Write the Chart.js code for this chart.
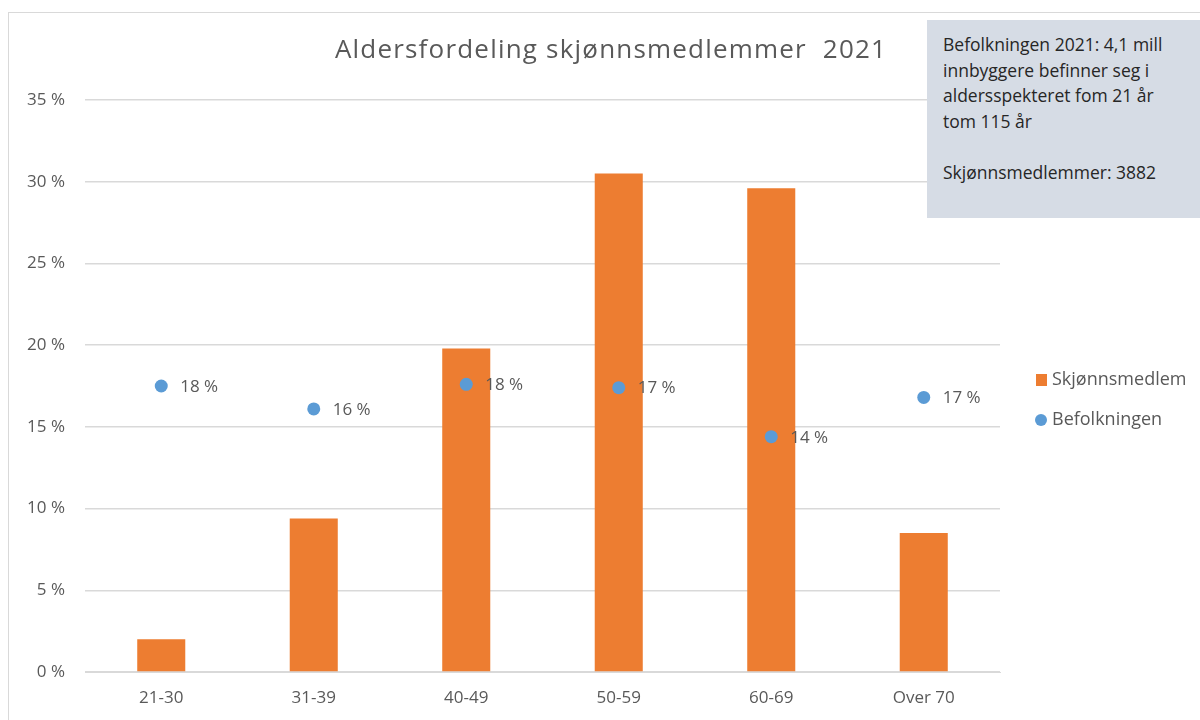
<!DOCTYPE html>
<html lang="no">
<head>
<meta charset="UTF-8">
<title>Aldersfordeling skjønnsmedlemmer 2021</title>
<script src="https://cdn.jsdelivr.net/npm/chart.js"></script>
<style>
    html, body { margin: 0; padding: 0; background: #fff; }
    .wrap { position: relative; width: 1200px; height: 720px; overflow: hidden; }
    .frame { position: absolute; left: 8px; top: 12px; width: 1300px; height: 800px; border: 1px solid #d9d9d9; }
    canvas { position: absolute; left: 0; top: 0; }
    .infobox {
        position: absolute; left: 927px; top: 20px; width: 273px; height: 198px;
        background: #d6dce5; box-sizing: border-box; padding: 12px 6px 0 16px;
        font-family: "Open Sans", sans-serif; font-size: 17.5px; font-weight: 500;
        color: #262626; line-height: 25.5px; white-space: nowrap;
    }
</style>
</head>
<body>
<div class="wrap">
    <div class="frame"></div>
    <canvas id="ageChart" width="1200" height="720"></canvas>
    <div class="infobox">
        Befolkningen 2021: 4,1 mill<br>
        innbyggere befinner seg i<br>
        aldersspekteret fom 21 år<br>
        tom 115 år<br>
        <br>
        Skjønnsmedlemmer: 3882
    </div>
</div>

<script>
const chartTitle = 'Aldersfordeling skjønnsmedlemmer  2021';
const ageGroups = ['21-30', '31-39', '40-49', '50-59', '60-69', 'Over 70'];
const memberShare = [2.0, 9.4, 19.8, 30.5, 29.6, 8.5];      // Skjønnsmedlem, %
const populationShare = [17.5, 16.1, 17.6, 17.4, 14.4, 16.8]; // Befolkningen, %
const populationLabels = ['18 %', '16 %', '18 %', '17 %', '14 %', '17 %'];

const textGrey = '#595959';

// title, point labels and the legend on the right
const extras = {
    id: 'extras',
    afterDatasetsDraw(chart) {
        const ctx = chart.ctx;
        ctx.save();

        // title
        ctx.fillStyle = textGrey;
        ctx.font = '400 26px "Open Sans"';
        ctx.letterSpacing = '1.2px';
        ctx.textAlign = 'center';
        ctx.textBaseline = 'middle';
        ctx.fillText(chartTitle, 611, 51);
        ctx.letterSpacing = '0px';

        // labels next to the population points
        const meta = chart.getDatasetMeta(1);
        ctx.font = '17px "Open Sans"';
        ctx.textAlign = 'left';
        meta.data.forEach((pt, i) => {
            ctx.fillText(populationLabels[i], pt.x + 19, pt.y + 1);
        });

        // legend
        ctx.font = '18px "Open Sans"';
        ctx.fillStyle = chart.data.datasets[0].backgroundColor;
        ctx.fillRect(1036, 374, 11, 12);
        ctx.fillStyle = textGrey;
        ctx.fillText(chart.data.datasets[0].label, 1052, 380);

        ctx.fillStyle = chart.data.datasets[1].backgroundColor;
        ctx.beginPath();
        ctx.arc(1041, 420, 6, 0, Math.PI * 2);
        ctx.fill();
        ctx.fillStyle = textGrey;
        ctx.fillText(chart.data.datasets[1].label, 1052, 420);
        ctx.restore();
    }
};

new Chart(document.getElementById('ageChart'), {
    data: {
        labels: ageGroups,
        datasets: [
            {
                type: 'bar',
                label: 'Skjønnsmedlem',
                data: memberShare,
                backgroundColor: '#ed7d31',
                barPercentage: 0.63,
                categoryPercentage: 0.5,
                order: 2
            },
            {
                type: 'line',
                label: 'Befolkningen',
                data: populationShare,
                showLine: false,
                backgroundColor: '#5b9bd5',
                borderColor: '#5b9bd5',
                pointRadius: 6.5,
                pointBorderWidth: 0,
                order: 1
            }
        ]
    },
    options: {
        responsive: false,
        animation: false,
        layout: { padding: { left: 0, top: 100, right: 200, bottom: 0 } },
        plugins: {
            legend: { display: false },
            tooltip: { enabled: false }
        },
        scales: {
            x: {
                grid: { display: false, drawTicks: false },
                border: { color: '#d9d9d9' },
                ticks: { color: textGrey, font: { family: 'Open Sans', size: 17 }, padding: 16 },
                afterFit(scale) { scale.height = 48; }
            },
            y: {
                min: 0,
                max: 35,
                ticks: {
                    stepSize: 5,
                    color: textGrey,
                    font: { family: 'Open Sans', size: 17 },
                    padding: 20,
                    callback: v => v + ' %'
                },
                grid: { color: '#d9d9d9', drawTicks: false, lineWidth: 1.5 },
                border: { display: false },
                afterFit(scale) { scale.width = 85; }
            }
        }
    },
    plugins: [extras]
});
</script>
</body>
</html>
